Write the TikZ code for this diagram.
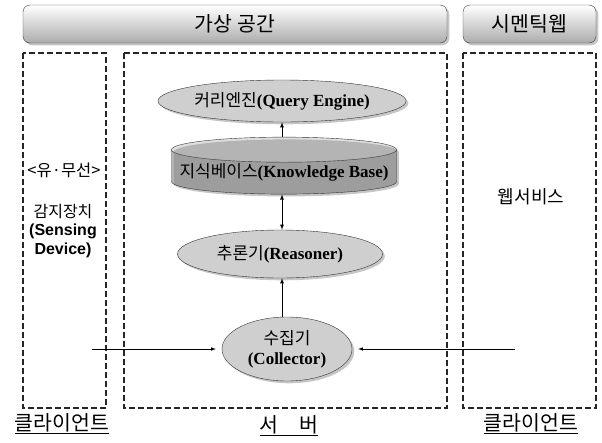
\documentclass[tikz,border=0pt]{standalone}
\usepackage{fontspec}
\setmainfont{Liberation Serif}
\setsansfont{Liberation Sans}
\newfontfamily\kr{Noto Sans CJK KR}
\usetikzlibrary{shapes.geometric, shadows}

\begin{document}
\begin{tikzpicture}[x=1pt, y=-1pt,
		titlebar/.style={draw=black!75, rounded corners=7pt, top color=white, bottom color=gray!65, drop shadow={opacity=0.45}, minimum height=38pt, inner sep=0pt, font=\kr\fontsize{20.5}{22}\selectfont},
		zone/.style={draw=black!85, line width=1.2pt, dash pattern=on 6pt off 3pt},
		module/.style={ellipse, draw=black!80, fill=gray!38, drop shadow={opacity=0.45}, inner sep=0pt, font=\fontsize{17}{20}\selectfont},
		caption/.style={font=\kr\fontsize{20.5}{22}\selectfont},
		flow/.style={-latex, thick}
		]
		
		\useasboundingbox (0,0) rectangle (602,442);
		
		\node[titlebar, minimum width=424pt] (vspace) at (235,24) {가상 공간};
		\node[titlebar, minimum width=133pt] (semweb) at (529.5,24) {시멘틱웹};
		
		\draw[zone] (23,53) rectangle (106,408);
		\draw[zone] (124,53) rectangle (447,408);
		\draw[zone] (463,53) rectangle (596,408);
		
		\node[font=\kr\fontsize{16.5}{18}\selectfont] (wired) at (64,170) {<유·무선>};
		\node[font=\fontsize{16}{18.5}\selectfont, align=center] (sensing) at (63,231) {{\kr 감지장치}\\{\sffamily\bfseries (Sensing}\\{\sffamily\bfseries Device)}};
		\node[font=\kr\fontsize{18}{20}\selectfont] (websvc) at (531,197) {웹서비스};
		
		\node[module, minimum width=207pt, minimum height=42pt] (qengine) at (282,101) {{\kr 커리엔진}\textbf{(Query Engine)}};
		\node[cylinder, shape border rotate=90, aspect=0.12, draw=black!80, cylinder uses custom fill, cylinder body fill=gray!58, cylinder end fill=gray!25, drop shadow={opacity=0.45}, minimum width=225pt, minimum height=57pt, inner sep=0pt, font=\fontsize{17}{20}\selectfont] (kbase) at (284,172) {{\kr 지식베이스}\textbf{(Knowledge Base)}};
		\node[module, minimum width=205pt, minimum height=48pt] (reasoner) at (280,254) {{\kr 추론기}\textbf{(Reasoner)}};
		\node[module, minimum width=130pt, minimum height=64pt, align=center] (collector) at (287,349) {{\kr 수집기}\\\textbf{(Collector)}};
		
		\coordinate (srcL) at (92,349);
		\coordinate (srcR) at (515,349);
		
		\draw[flow] (qengine.south |- kbase.north) -- (qengine.south);
		\draw[flow, latex-latex] (qengine.south |- kbase.south) -- (qengine.south |- reasoner.north);
		\draw[flow] (qengine.south |- collector.north) -- (qengine.south |- reasoner.south);
		\draw[flow, semithick, shorten >=6pt] (srcL) -- (collector.west);
		\draw[flow, semithick, shorten >=6pt] (srcR) -- (collector.east);
		
		\node[caption] (clientL) at (62,424) {\underline{클라이언트}};
		\node[caption] (server) at (289,426) {\underline{서\quad 버}};
		\node[caption] (clientR) at (531,424) {\underline{클라이언트}};
		
	\end{tikzpicture}
\end{document}
